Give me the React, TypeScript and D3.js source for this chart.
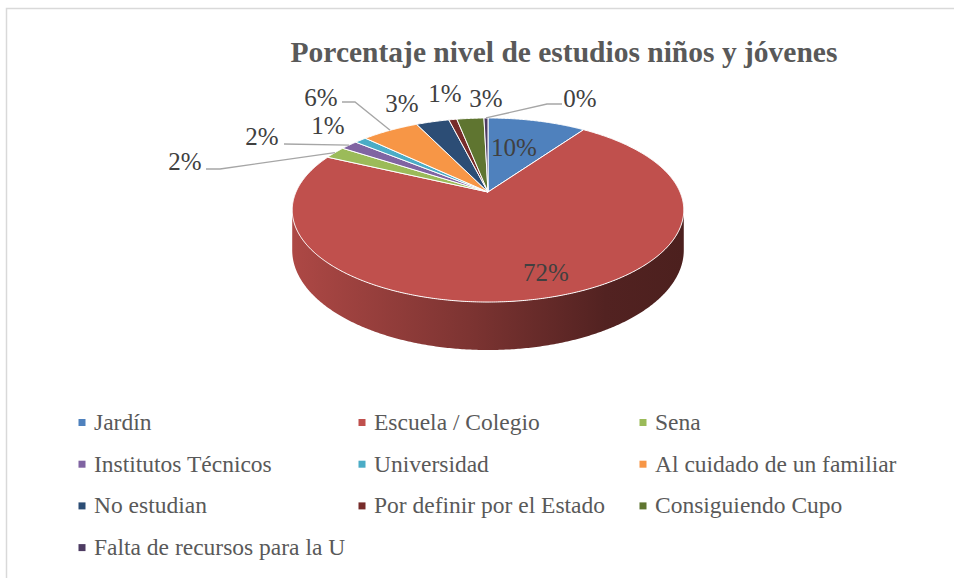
import React from "react";
import * as d3 from "d3";

const title = "Porcentaje nivel de estudios niños y jóvenes";
const categories = [
  "Jardín",
  "Escuela / Colegio",
  "Sena",
  "Institutos Técnicos",
  "Universidad",
  "Al cuidado de un familiar",
  "No estudian",
  "Por definir por el Estado",
  "Consiguiendo Cupo",
  "Falta de recursos para la U",
];
const values = [9.8, 72.2, 2.2, 1.7, 1.2, 5.7, 3.3, 0.8, 2.7, 0.4];
const colors = [
  "#4F81BD",
  "#C0504D",
  "#9BBB59",
  "#8064A2",
  "#4BACC6",
  "#F79646",
  "#2C4D75",
  "#772C2A",
  "#5F7530",
  "#4D3B62",
];

// layout (label placement, text centre x / baseline y), leader line elbows
const labelLayout: { x: number; y: number; leader?: [number, number][] }[] = [
  { x: 514, y: 156 },
  { x: 546, y: 281 },
  { x: 185, y: 170, leader: [[206, 169], [220, 169]] },
  { x: 262, y: 145, leader: [[284, 144]] },
  { x: 328, y: 134 },
  { x: 321, y: 106, leader: [[342, 102], [355, 102]] },
  { x: 402, y: 112 },
  { x: 445, y: 102 },
  { x: 486, y: 107 },
  { x: 580, y: 107, leader: [[562, 104], [547, 104]] },
];

const W = 954;
const H = 578;
const CX = 488;
const CY = 192;
const R = 192;
const B = 88.5;
const K = 0.1957;
const DEPTH = 38.6;

function proj(a: number, r: number, d = 0): [number, number] {
  const x = r * Math.sin(a);
  const y = -r * Math.cos(a);
  const w = 1 - K * y;
  return [CX + (R * x) / w, CY + (B * y + d) / w];
}

function arcPts(s: number, e: number, r: number, d = 0): [number, number][] {
  const n = Math.max(2, Math.ceil(((e - s) * 180) / Math.PI / 0.5));
  const pts: [number, number][] = [];
  for (let i = 0; i <= n; i++) pts.push(proj(s + ((e - s) * i) / n, r, d));
  return pts;
}

export default function App() {
  const total = d3.sum(values);
  const pie = d3.pie<number>().sort(null).value((d) => d);
  const arcs = pie(values);
  const line = d3.line<[number, number]>();
  const pct = d3.format(".0%");

  const A1 = Math.acos(-K);
  const A2 = 2 * Math.PI - A1;

  const legendCols = [82, 362, 643];
  const legendY = d3.scaleLinear().domain([0, 1]).range([430, 471.7]);

  return (
    <svg
      width={W}
      height={H}
      style={{ position: "absolute", left: 0, top: 0, background: "#fff" }}
    >
      <defs>
        {arcs.map((a, i) => {
          const c = d3.color(colors[i])!;
          return (
            <linearGradient
              key={i}
              id={`wall${i}`}
              gradientUnits="userSpaceOnUse"
              x1={CX - R * 1.02}
              x2={CX + R * 1.02}
              y1={0}
              y2={0}
            >
              <stop offset="0" stopColor={c.darker(0.3).formatHex()} />
              <stop offset="0.45" stopColor={c.darker(1.2).formatHex()} />
              <stop offset="0.8" stopColor={c.darker(2.4).formatHex()} />
              <stop offset="1" stopColor={c.darker(2.6).formatHex()} />
            </linearGradient>
          );
        })}
      </defs>
      <rect x={0} y={0} width={W} height={H} fill="#fff" />
      <path d={`M6.5,${H} V8.5 H${W}`} fill="none" stroke="#d9d9d9" strokeWidth={1.5} />

      <text
        x={564}
        y={62}
        textAnchor="middle"
        fontFamily="'Liberation Serif', 'Times New Roman', serif"
        fontWeight="bold"
        fontSize={29.5}
        fill="#595959"
      >
        {title}
      </text>

      {/* walls */}
      {arcs.map((a, i) => {
        const s = Math.max(a.startAngle, A1);
        const e = Math.min(a.endAngle, A2);
        if (e <= s) return null;
        const top = arcPts(s, e, 1, 0);
        const bot = arcPts(s, e, 1, DEPTH).reverse();
        return (
          <path
            key={`w${i}`}
            d={line([...top, ...bot])! + "Z"}
            fill={`url(#wall${i})`}
            stroke="none"
          />
        );
      })}

      {/* top faces */}
      {arcs.map((a, i) => {
        const pts = [proj(0, 0), ...arcPts(a.startAngle, a.endAngle, 1, 0)];
        return (
          <path
            key={`t${i}`}
            d={line(pts)! + "Z"}
            fill={colors[i]}
            stroke="#ffffff"
            strokeWidth={1}
            strokeLinejoin="round"
          />
        );
      })}

      {/* leader lines */}
      {arcs.map((a, i) => {
        const L = labelLayout[i];
        if (!L.leader) return null;
        const mid = (a.startAngle + a.endAngle) / 2;
        const pts: [number, number][] = [...L.leader, proj(mid, 1)];
        return (
          <path
            key={`l${i}`}
            d={line(pts)!}
            fill="none"
            stroke="#a6a6a6"
            strokeWidth={1.3}
          />
        );
      })}

      {/* data labels */}
      {arcs.map((a, i) => {
        const L = labelLayout[i];
        return (
          <text
            key={`d${i}`}
            x={L.x}
            y={L.y}
            textAnchor="middle"
            fontFamily="'Liberation Serif', 'Times New Roman', serif"
            fontSize={25}
            fill="#404040"
          >
            {pct(a.data / total)}
          </text>
        );
      })}

      {/* legend */}
      {categories.map((c, i) => {
        const col = i % 3;
        const row = Math.floor(i / 3);
        const x = legendCols[col];
        const y = legendY(row);
        return (
          <g key={`g${i}`}>
            <rect x={x - 3.5} y={y - 11} width={7} height={7} fill={colors[i]} />
            <text
              x={x + 12}
              y={y}
              fontFamily="'Liberation Serif', 'Times New Roman', serif"
              fontSize={23.5}
              fill="#595959"
            >
              {c}
            </text>
          </g>
        );
      })}
    </svg>
  );
}
